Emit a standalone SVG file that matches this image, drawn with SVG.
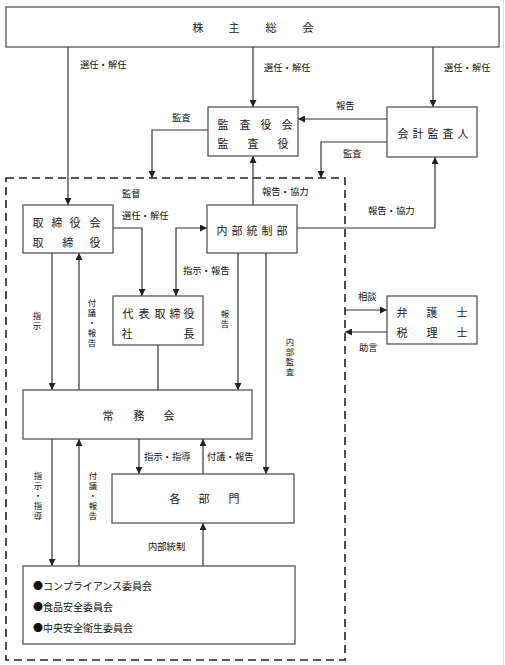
<svg xmlns="http://www.w3.org/2000/svg" width="505" height="665" viewBox="0 0 505 665">
<defs>
<marker id="ah" viewBox="0 0 10 10" refX="10" refY="5" markerWidth="7" markerHeight="7" markerUnits="userSpaceOnUse" orient="auto-start-reverse">
<path d="M0,0 L10,5 L0,10 Z" fill="#222"/>
</marker>
<style>
.box{fill:#fff;stroke:#555;stroke-width:1.3}
.ln{fill:none;stroke:#333;stroke-width:1.2}
.lna{fill:none;stroke:#333;stroke-width:1.2;marker-end:url(#ah)}
.bt{font-family:"Noto Sans CJK JP","Noto Sans",sans-serif;font-size:11px;fill:#222;text-anchor:middle;dominant-baseline:central}
.lb{font-family:"Noto Sans CJK JP","Noto Sans",sans-serif;font-size:9.3px;fill:#111;dominant-baseline:central}
.vl{font-family:"Noto Sans CJK JP","Noto Sans",sans-serif;font-size:8.4px;fill:#111;writing-mode:vertical-rl;letter-spacing:1.4px}
.ct{font-family:"Noto Sans CJK JP","Noto Sans",sans-serif;font-size:10px;fill:#111;dominant-baseline:central}
</style>
</defs>
<rect width="505" height="665" fill="#fff"/>
<line x1="503.5" y1="0" x2="503.5" y2="665" stroke="#ddd" stroke-width="1"/>

<rect id="dashed-frame" x="6" y="178" width="339" height="482" fill="none" stroke="#222" stroke-width="1.6" stroke-dasharray="8,5"/>

<g id="connectors">
<path class="lna" d="M68,47 V205"/>
<path class="lna" d="M253,47 V107"/>
<path class="lna" d="M433,47 V107"/>
<path class="lna" d="M387,119 H298"/>
<path class="lna" d="M208,130 H152 V178"/>
<path class="lna" d="M387,142 H321 V178"/>
<path class="lna" d="M253,205 V156"/>
<path class="lna" d="M297,228 H435 V157"/>
<path class="lna" d="M113,228 H142 V296"/>
<path class="lna" d="M176,296 V228 H207" style="marker-start:url(#ah)"/>
<path class="lna" d="M52,253 V390"/>
<path class="lna" d="M79,390 V253"/>
<path class="ln" d="M158,345 V390" stroke="#666"/>
<path class="lna" d="M238,253 V390"/>
<path class="lna" d="M266,253 V474"/>
<path class="lna" d="M139,439 V474"/>
<path class="lna" d="M203,474 V439"/>
<path class="lna" d="M52,439 V566"/>
<path class="lna" d="M79,566 V439"/>
<path class="lna" d="M203,566 V523"/>
<path class="lna" d="M345,310 H387"/>
<path class="lna" d="M387,332 H345"/>
</g>

<g id="labels">
<text class="lb" x="80" y="64">選任・解任</text>
<text class="lb" x="264" y="67">選任・解任</text>
<text class="lb" x="444" y="67">選任・解任</text>
<text class="lb" x="336" y="105">報告</text>
<text class="lb" x="172" y="117">監査</text>
<text class="lb" x="343" y="153">監査</text>
<text class="lb" x="122" y="193">監督</text>
<text class="lb" x="262" y="191">報告・協力</text>
<text class="lb" x="368" y="210">報告・協力</text>
<text class="lb" x="122" y="215">選任・解任</text>
<text class="lb" x="183" y="270">指示・報告</text>
<text class="lb" x="358" y="296">相談</text>
<text class="lb" x="359" y="347">助言</text>
<text class="lb" x="144" y="456">指示・指導</text>
<text class="lb" x="207" y="456">付議・報告</text>
<text class="lb" x="148" y="546">内部統制</text>
<text class="vl" x="37" y="312">指示</text>
<text class="vl" x="92" y="299">付議・報告</text>
<text class="vl" x="225" y="310">報告</text>
<text class="vl" x="290" y="338">内部監査</text>
<text class="vl" x="38" y="472">指示・指導</text>
<text class="vl" x="93" y="472">付議・報告</text>
</g>

<g id="shareholders">
<rect class="box" x="6" y="7" width="493" height="40"/>
<text class="bt"><tspan x="198" y="27">株</tspan><tspan x="234" y="27">主</tspan><tspan x="271" y="27">総</tspan><tspan x="308" y="27">会</tspan></text>
</g>

<g id="audit-board">
<rect class="box" x="208" y="107" width="90" height="49"/>
<text class="bt"><tspan x="223" y="124">監</tspan><tspan x="245" y="124">査</tspan><tspan x="266" y="124">役</tspan><tspan x="287" y="124">会</tspan></text>
<text class="bt"><tspan x="223" y="143">監</tspan><tspan x="253" y="143">査</tspan><tspan x="283" y="143">役</tspan></text>
</g>

<g id="accounting-auditor">
<rect class="box" x="387" y="107" width="90" height="50"/>
<text class="bt"><tspan x="403" y="133">会</tspan><tspan x="418" y="133">計</tspan><tspan x="433" y="133">監</tspan><tspan x="448" y="133">査</tspan><tspan x="463" y="133">人</tspan></text>
</g>

<g id="board">
<rect class="box" x="23" y="205" width="90" height="48"/>
<text class="bt"><tspan x="38" y="222">取</tspan><tspan x="57" y="222">締</tspan><tspan x="75" y="222">役</tspan><tspan x="95" y="222">会</tspan></text>
<text class="bt"><tspan x="38" y="242">取</tspan><tspan x="68" y="242">締</tspan><tspan x="95" y="242">役</tspan></text>
</g>

<g id="internal-control">
<rect class="box" x="207" y="205" width="90" height="48"/>
<text class="bt"><tspan x="222" y="230">内</tspan><tspan x="237" y="230">部</tspan><tspan x="252" y="230">統</tspan><tspan x="267" y="230">制</tspan><tspan x="282" y="230">部</tspan></text>
</g>

<g id="president">
<rect class="box" x="113" y="296" width="90" height="49"/>
<text class="bt"><tspan x="128" y="313">代</tspan><tspan x="144" y="313">表</tspan><tspan x="160" y="313">取</tspan><tspan x="175" y="313">締</tspan><tspan x="189" y="313">役</tspan></text>
<text class="bt"><tspan x="127" y="333">社</tspan><tspan x="189" y="333">長</tspan></text>
</g>

<g id="lawyers">
<rect class="box" x="387" y="296" width="90" height="48"/>
<text class="bt"><tspan x="402" y="312">弁</tspan><tspan x="432" y="312">護</tspan><tspan x="462" y="312">士</tspan></text>
<text class="bt"><tspan x="402" y="332">税</tspan><tspan x="432" y="332">理</tspan><tspan x="462" y="332">士</tspan></text>
</g>

<g id="executive-committee">
<rect class="box" x="23" y="390" width="229" height="49"/>
<text class="bt"><tspan x="108" y="415">常</tspan><tspan x="139" y="415">務</tspan><tspan x="169" y="415">会</tspan></text>
</g>

<g id="departments">
<rect class="box" x="112" y="474" width="182" height="49"/>
<text class="bt"><tspan x="175" y="498">各</tspan><tspan x="204" y="498">部</tspan><tspan x="234" y="498">門</tspan></text>
</g>

<g id="committees">
<rect class="box" x="23" y="566" width="272" height="78"/>
<text class="ct" x="33" y="585">●コンプライアンス委員会</text>
<text class="ct" x="33" y="606">●食品安全委員会</text>
<text class="ct" x="33" y="627">●中央安全衛生委員会</text>
</g>
</svg>
